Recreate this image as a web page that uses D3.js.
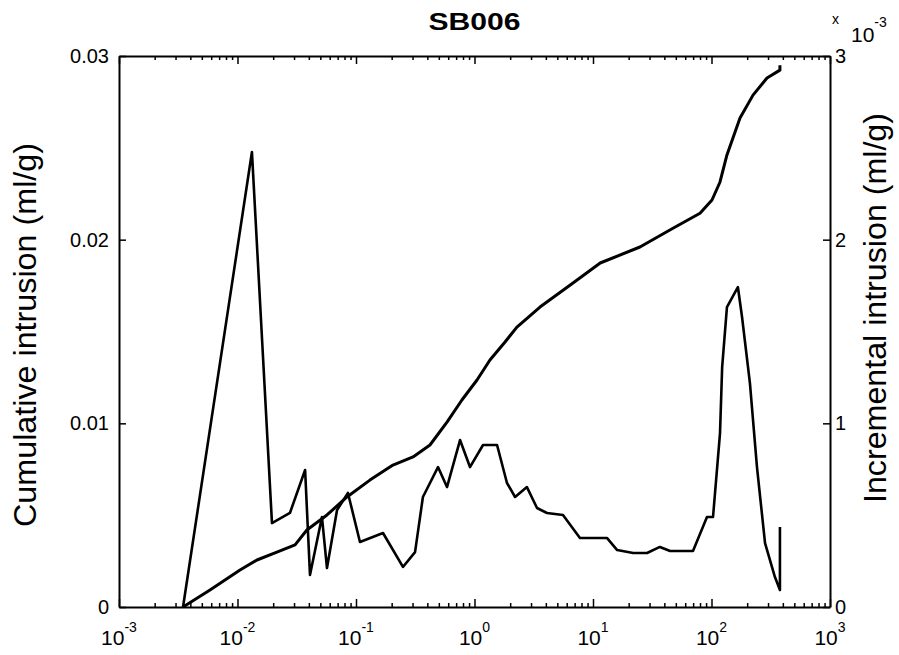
<!DOCTYPE html>
<html>
<head>
<meta charset="utf-8">
<script src="https://cdn.jsdelivr.net/npm/d3@7"></script>
<style>
  body { margin: 0; background: #fff; }
  svg { display: block; }
  text { font-family: "Liberation Sans", Arial, Helvetica, sans-serif; fill: #000; }
</style>
</head>
<body>
<svg id="chart" width="899" height="655"></svg>
<script>
// Mercury intrusion porosimetry, sample SB006
// Cumulative intrusion (ml/g) against pressure
const cumPressure = [0.00347, 0.00586, 0.0105, 0.0146, 0.0215, 0.0306, 0.0385, 0.0569, 0.0839, 0.131,
  0.205, 0.303, 0.421, 0.586, 0.783, 1.05, 1.35, 1.81, 2.28, 3.57, 6.78, 11.5, 24.9, 47.3, 80.0,
  101, 118, 135, 174, 224, 294, 378, 378];
const cumVolume = [0, 0.00093, 0.00201, 0.00256, 0.00299, 0.00338, 0.00419, 0.00501, 0.00599, 0.00691,
  0.00773, 0.00817, 0.00882, 0.01007, 0.01127, 0.01236, 0.01345, 0.01443, 0.01524, 0.01633, 0.01764,
  0.01873, 0.01960, 0.02062, 0.02144, 0.02216, 0.02314, 0.02461, 0.02662, 0.02787, 0.02880, 0.02923, 0.02950];

// Incremental intrusion (x 10^-3 ml/g) against pressure
const incPressure = [0.00347, 0.01324, 0.01954, 0.0277, 0.0372, 0.0409, 0.0516, 0.0569, 0.0692, 0.0855,
  0.108, 0.169, 0.249, 0.315, 0.367, 0.492, 0.586, 0.755, 0.916, 1.18, 1.55, 1.88, 2.20, 2.77, 3.37,
  4.09, 5.58, 7.76, 13.1, 16.0, 21.8, 28.6, 36.7, 44.7, 69.8, 91.6, 103, 118, 123, 135, 167, 181,
  211, 242, 283, 343, 378, 378];
const incVolume = [0, 2.477, 0.457, 0.512, 0.746, 0.174, 0.490, 0.212, 0.528, 0.621,
  0.354, 0.403, 0.218, 0.299, 0.599, 0.762, 0.653, 0.909, 0.762, 0.882, 0.882, 0.675, 0.599, 0.653, 0.539,
  0.512, 0.501, 0.376, 0.376, 0.310, 0.294, 0.294, 0.327, 0.305, 0.305, 0.490, 0.490, 0.947, 1.306, 1.633, 1.742, 1.579,
  1.219, 0.762, 0.348, 0.163, 0.093, 0.435];

const xTickExponents = [-3, -2, -1, 0, 1, 2, 3];
const leftTicks = [0, 0.01, 0.02, 0.03];
const leftTickLabels = ["0", "0.01", "0.02", "0.03"];
const rightTicks = [0, 1, 2, 3];
const rightTickLabels = ["0", "1", "2", "3"];

const titleText = "SB006";
const leftLabel = "Cumulative intrusion (ml/g)";
const rightLabel = "Incremental intrusion (ml/g)";

const svg = d3.select("#chart");
const L = 119, R = 830, T = 56, B = 607;

const x = d3.scaleLog().domain([1e-3, 1e3]).range([L, R]);
const yL = d3.scaleLinear().domain([0, 0.03]).range([B, T]);
const yR = d3.scaleLinear().domain([0, 3]).range([B, T]);

const majors = xTickExponents.map(e => Math.pow(10, e));
const minors = [];
for (let e = -3; e < 3; e++) for (let m = 2; m <= 9; m++) minors.push(m * Math.pow(10, e));

function styleAxis(g) {
  g.select(".domain").attr("stroke", "#000").attr("stroke-width", 2);
  g.selectAll(".tick line").attr("stroke", "#000").attr("stroke-width", 1.5);
}

// bottom and top: major + minor ticks pointing inward
svg.append("g").attr("transform", `translate(0,${B})`)
  .call(d3.axisBottom(x).tickValues(majors).tickSize(-8).tickSizeOuter(0).tickFormat(""))
  .call(styleAxis);
svg.append("g").attr("transform", `translate(0,${B})`)
  .call(d3.axisBottom(x).tickValues(minors).tickSize(-4).tickSizeOuter(0).tickFormat(""))
  .call(g => g.select(".domain").remove())
  .call(styleAxis);
svg.append("g").attr("transform", `translate(0,${T})`)
  .call(d3.axisTop(x).tickValues(majors).tickSize(-8).tickSizeOuter(0).tickFormat(""))
  .call(styleAxis);
svg.append("g").attr("transform", `translate(0,${T})`)
  .call(d3.axisTop(x).tickValues(minors).tickSize(-4).tickSizeOuter(0).tickFormat(""))
  .call(g => g.select(".domain").remove())
  .call(styleAxis);

// left axis
svg.append("g").attr("transform", `translate(${L},0)`)
  .call(d3.axisLeft(yL).tickValues(leftTicks).tickSize(-7).tickSizeOuter(0).tickPadding(10)
    .tickFormat((d, i) => leftTickLabels[i]))
  .call(styleAxis)
  .call(g => g.selectAll("text").attr("font-size", 20).attr("font-family", null));

// right axis
svg.append("g").attr("transform", `translate(${R},0)`)
  .call(d3.axisRight(yR).tickValues(rightTicks).tickSize(-7).tickSizeOuter(0).tickPadding(5)
    .tickFormat((d, i) => rightTickLabels[i]))
  .call(styleAxis)
  .call(g => g.selectAll("text").attr("font-size", 20).attr("font-family", null));

// x tick labels 10^n
const xl = svg.append("g");
xTickExponents.forEach(e => {
  const t = xl.append("text")
    .attr("x", x(Math.pow(10, e)))
    .attr("y", 645)
    .attr("text-anchor", "middle")
    .attr("font-size", 21);
  t.append("tspan").text("10");
  t.append("tspan").attr("dy", -13).attr("font-size", 14).text(String(e));
});

// exponent multiplier of the right axis
const mult = svg.append("text").attr("x", 832).attr("y", 24).attr("font-size", 14);
mult.append("tspan").text("x");
mult.append("tspan").attr("x", 851).attr("y", 42).attr("font-size", 21).text("10");
mult.append("tspan").attr("dy", -15).attr("font-size", 14).text("-3");

// curves
const cumLine = d3.line().x((d, i) => x(cumPressure[i])).y(d => yL(d));
const incLine = d3.line().x((d, i) => x(incPressure[i])).y(d => yR(d));

svg.append("path").datum(incVolume)
  .attr("d", incLine).attr("fill", "none").attr("stroke", "#000")
  .attr("stroke-width", 2.6).attr("stroke-linejoin", "round");
svg.append("path").datum(cumVolume)
  .attr("d", cumLine).attr("fill", "none").attr("stroke", "#000")
  .attr("stroke-width", 3).attr("stroke-linejoin", "round");

// title
svg.append("text").attr("x", (L + R) / 2).attr("y", 30)
  .attr("text-anchor", "middle").attr("font-size", 23).attr("font-weight", "bold")
  .attr("textLength", 92).attr("lengthAdjust", "spacingAndGlyphs")
  .text(titleText);

// axis titles
svg.append("text")
  .attr("transform", "translate(36,335) rotate(-90)")
  .attr("text-anchor", "middle").attr("font-size", 31)
  .attr("textLength", 384).attr("lengthAdjust", "spacingAndGlyphs")
  .text(leftLabel);
svg.append("text")
  .attr("transform", "translate(886,308) rotate(-90)")
  .attr("text-anchor", "middle").attr("font-size", 31)
  .attr("textLength", 390).attr("lengthAdjust", "spacingAndGlyphs")
  .text(rightLabel);
</script>
</body>
</html>
